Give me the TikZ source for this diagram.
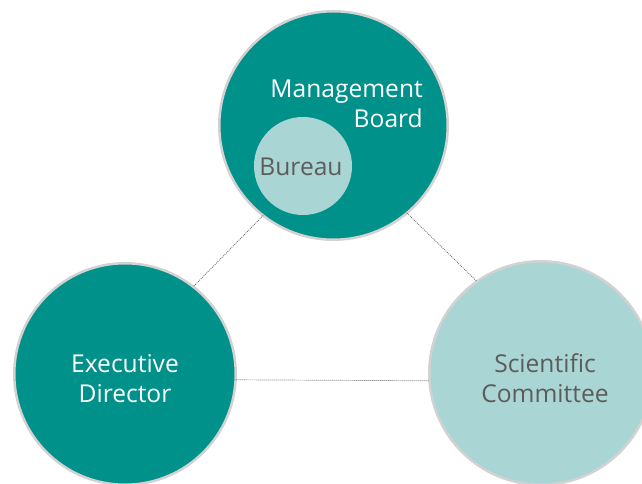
\documentclass[tikz,border=0pt]{standalone}
\usepackage{fontspec}
\setmainfont{Open Sans}
\definecolor{tealdark}{RGB}{0,145,139}
\definecolor{teallight}{RGB}{170,213,213}
\definecolor{rimgray}{RGB}{210,210,210}
\definecolor{txtgray}{RGB}{92,92,92}
\definecolor{linkgray}{RGB}{100,100,100}
\begin{document}
\begin{tikzpicture}[x=1pt,y=1pt,
  bigcircle/.style={circle, inner sep=0pt, outer sep=0pt, draw=rimgray, line width=2.5pt},
  darkfill/.style={fill=tealdark},
  lightfill/.style={fill=teallight},
  lbl/.style={inner sep=0pt, font=\fontsize{24.6}{29.5}\selectfont},
  link/.style={draw=linkgray, line width=0.7pt, dash pattern=on 1pt off 1pt}
]
\useasboundingbox (0,0) rectangle (642,484);
\clip (0,0) rectangle (642,484);
\node[bigcircle, darkfill, minimum size=228.5pt] (mb) at (333.5,358.5) {};
\node[circle, inner sep=0pt, outer sep=0pt, lightfill, minimum size=98pt] (bu) at (303,318) {};
\node[bigcircle, darkfill, minimum size=221.5pt] (ed) at (125,110) {};
\node[bigcircle, lightfill, minimum size=223.5pt] (sc) at (541,111) {};
\draw[link] (mb.232) -- (ed.52);
\draw[link] (mb.310) -- (sc.125);
\draw[link] (ed.-3.6) -- (sc.184);
\node[lbl, text=white, align=right, anchor=east] (mbt) at (423,380) {Management\\Board};
\node[lbl, text=txtgray] (but) at (301,317.5) {Bureau};
\node[lbl, text=white, align=center] (edt) at (125,105.5) {Executive\\Director};
\node[lbl, text=txtgray, align=center] (sct) at (545,106) {Scientific\\Committee};
\end{tikzpicture}
\end{document}
